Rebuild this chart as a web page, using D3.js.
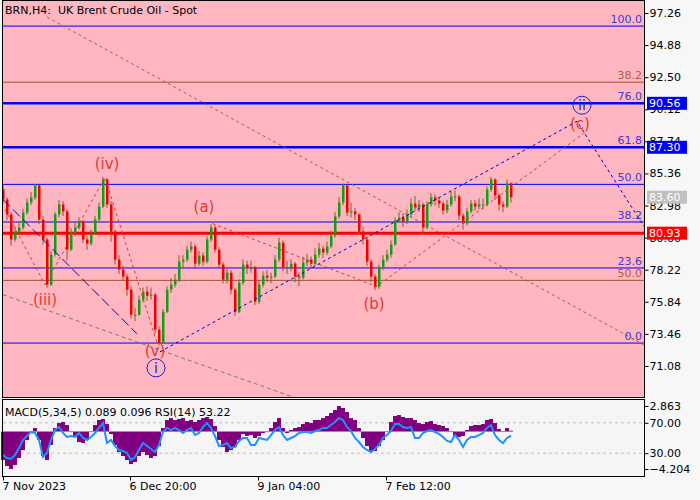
<!DOCTYPE html>
<html>
<head>
<meta charset="utf-8">
<title>BRN H4</title>
<style>
  body { margin: 0; background: #f7f7f7; }
  svg { display: block; font-family: "DejaVu Sans", Verdana, sans-serif; }
</style>
</head>
<body>
<svg id="chart" width="700" height="500"></svg>
<script src="https://cdn.jsdelivr.net/npm/d3@7"></script>
<script>
// every 4th H4 bar
var firstOpen = 84.2;
var closes = [
  83.43, 82.32, 80.46, 81.05, 81.35, 82.46, 83.21, 83.58, 84.47, 81.94,
  80.46, 77.11, 79.34, 82.32, 83.06, 82.54, 79.71, 80.98, 81.35, 81.80,
  80.46, 80.16, 80.90, 81.94, 82.91, 84.92, 83.06, 81.05, 78.97, 78.23,
  77.71, 76.74, 74.88, 74.88, 76.00, 76.59, 76.29, 76.37, 73.77, 72.80,
  75.10, 76.74, 77.11, 77.48, 78.82, 78.97, 79.71, 79.94, 78.67, 79.27,
  78.82, 80.46, 81.35, 79.71, 78.60, 77.48, 78.00, 76.74, 75.10, 77.26,
  78.60, 78.38, 78.38, 75.85, 77.11, 77.78, 77.63, 77.71, 78.97, 80.23,
  78.38, 78.38, 78.67, 77.71, 77.63, 78.75, 78.97, 78.67, 79.34, 79.79,
  79.49, 79.94, 80.75, 82.17, 83.21, 84.47, 82.46, 82.54, 82.32, 81.05,
  80.46, 78.82, 77.71, 76.96, 78.38, 78.97, 79.34, 80.09, 81.87, 82.09,
  81.80, 82.32, 83.13, 82.84, 83.06, 81.35, 83.06, 83.58, 83.36, 83.13,
  82.61, 83.06, 83.65, 83.65, 82.24, 81.65, 82.54, 83.13, 82.91, 83.06,
  83.06, 84.17, 84.92, 83.73, 83.06, 82.91, 84.62, 83.60
];
var highs = [
  84.5, 83.6, 82.5, 81.4, 81.8, 82.7, 83.5, 84.0, 84.6, 84.5,
  82.2, 80.6, 79.6, 82.5, 83.4, 83.3, 82.7, 81.3, 81.7, 82.1,
  81.9, 80.7, 81.2, 82.2, 83.2, 85.1, 85.0, 83.3, 81.2, 79.3,
  78.5, 77.9, 77.0, 75.4, 76.3, 76.9, 77.0, 76.9, 76.5, 74.0,
  75.3, 77.0, 77.6, 77.9, 79.3, 79.3, 80.0, 80.3, 80.1, 79.6,
  79.5, 80.7, 81.6, 81.5, 79.9, 78.8, 78.4, 78.2, 76.9, 77.5,
  79.0, 78.9, 78.9, 78.5, 77.4, 78.1, 78.2, 78.0, 79.3, 80.6,
  80.4, 78.9, 79.0, 78.8, 78.0, 79.2, 79.4, 79.2, 79.8, 80.2,
  80.0, 80.3, 81.1, 82.5, 83.6, 84.6, 84.5, 83.2, 82.8, 82.4,
  81.4, 80.6, 79.0, 77.9, 78.6, 79.3, 79.7, 80.4, 82.1, 82.5,
  82.4, 82.7, 83.5, 83.7, 83.4, 83.2, 83.3, 83.9, 83.8, 83.6,
  83.3, 83.4, 84.0, 84.1, 83.8, 82.4, 82.8, 83.4, 83.4, 83.5,
  83.5, 84.4, 85.1, 85.0, 83.9, 83.3, 84.9, 84.7
];
var lows = [
  83.1, 81.9, 80.0, 80.3, 80.8, 81.2, 82.3, 83.0, 83.4, 81.6,
  80.1, 76.9, 77.0, 79.2, 82.1, 82.2, 78.9, 79.6, 80.7, 81.2,
  80.2, 79.7, 80.0, 80.8, 81.8, 82.8, 82.8, 80.3, 78.6, 77.9,
  77.4, 76.3, 74.6, 74.4, 74.8, 75.8, 75.9, 76.0, 73.5, 72.6,
  72.8, 75.0, 76.5, 76.9, 77.3, 78.3, 78.8, 79.5, 78.3, 78.5,
  78.5, 78.7, 80.3, 79.5, 78.3, 77.2, 77.2, 76.4, 74.8, 75.0,
  77.1, 77.9, 78.0, 75.6, 75.7, 76.9, 77.3, 77.2, 77.6, 78.8,
  78.1, 77.9, 78.1, 77.3, 77.0, 77.5, 78.5, 78.3, 78.5, 79.1,
  79.1, 79.3, 79.8, 80.6, 82.0, 83.0, 82.2, 82.1, 81.9, 80.8,
  80.1, 78.5, 77.3, 76.7, 76.8, 78.2, 78.8, 79.1, 80.0, 81.7,
  81.4, 81.6, 82.1, 82.6, 82.5, 80.9, 81.2, 82.9, 83.0, 82.8,
  82.3, 82.4, 82.9, 83.3, 81.9, 81.2, 81.5, 82.4, 82.6, 82.7,
  82.7, 82.9, 84.0, 83.4, 82.6, 82.5, 82.8, 83.2
];
var macdHist = [
  -3.2, -3.87, -4.2, -3.76, -2.97, -2.08, -0.95, -0.06, 0.39, -0.95,
  -2.75, -3.2, -1.51, 0.39, 0.95, 1.07, 0.73, -0.06, -0.62, -1.18,
  -1.29, -0.95, -0.06, 0.73, 1.29, 1.40, 0.84, -0.28, -1.51, -2.30,
  -2.75, -3.2, -3.65, -3.42, -2.75, -2.30, -2.64, -2.97, -2.75, -1.63,
  0.39, 1.29, 1.51, 1.29, 1.40, 1.51, 1.18, 1.29, 1.07, 1.29,
  1.51, 1.63, 1.40, 0.62, -0.95, -1.74, -2.30, -2.08, -1.74, -0.95,
  -0.28, -0.50, -0.39, -0.73, -0.50, -0.17, -0.06, 0.39, 1.07, 1.51,
  0.39, -0.17, 0.17, 0.39, 0.50, 0.84, 1.07, 0.95, 1.29, 1.29,
  1.51, 1.74, 2.08, 2.41, 2.86, 2.64, 2.19, 1.51, 1.29, 0.39,
  -0.73, -1.63, -2.30, -2.19, -1.63, -0.95, -0.06, 1.07, 1.74, 1.85,
  1.63, 1.51, 1.51, 1.29, 0.95, 0.84, 1.07, 1.18, 0.84, 0.73,
  0.62, 0.39, -0.06, -0.50, -0.62, -0.50, 0.17, 0.62, 0.73, 0.73,
  0.84, 1.29, 1.40, 0.95, 0.28, -0.06, 0.39, 0.089
];
var rsiVals = [
  27.6, 23.7, 22.4, 27.6, 36.8, 47.4, 52.6, 57.9, 56.6, 47.4,
  25.0, 30.3, 47.4, 60.5, 64.5, 56.6, 51.3, 52.6, 51.3, 56.6,
  50.0, 47.4, 51.3, 56.6, 63.2, 69.7, 43.4, 47.4, 39.5, 34.2,
  32.9, 30.3, 21.1, 25.0, 34.2, 43.4, 39.5, 35.5, 31.6, 40.8,
  57.9, 63.2, 60.5, 63.2, 60.5, 56.6, 60.5, 63.2, 53.9, 56.6,
  64.5, 69.7, 63.2, 52.6, 39.5, 40.8, 43.4, 36.8, 38.2, 46.1,
  50.0, 50.0, 40.8, 40.8, 50.0, 48.7, 47.4, 53.9, 60.5, 64.5,
  53.9, 47.4, 50.0, 52.6, 56.6, 57.9, 57.9, 56.6, 59.2, 60.5,
  63.2, 63.2, 67.1, 71.1, 76.3, 73.7, 64.5, 59.2, 50.0, 44.7,
  38.2, 34.2, 31.6, 35.5, 40.8, 50.0, 53.9, 59.2, 68.4, 68.4,
  64.5, 63.2, 64.5, 50.0, 50.0, 56.6, 59.2, 60.5, 57.9, 55.3,
  51.3, 46.1, 44.7, 53.9, 47.4, 38.2, 47.4, 51.3, 51.3, 53.9,
  56.6, 63.2, 67.1, 53.9, 47.4, 43.4, 50.0, 53.22
];
var barsPerPoint = 4;

var priceTicks = [97.26, 94.88, 92.50, 90.12, 87.74, 85.36, 82.98, 80.60, 78.22, 75.84, 73.46, 71.08];
var timeTickBars = [0, 127, 255, 383];
var timeTickLabels = ["7 Nov 2023", "6 Dec 20:00", "9 Jan 04:00", "7 Feb 12:00"];

// fibonacci grids
var fibLabels = ["0.0", "23.6", "38.2", "50.0", "61.8", "76.0", "100.0"];
var fibPrices = [72.78, 78.35, 81.76, 84.55, 87.30, 90.56, 96.29];
var fibThick = ["61.8", "76.0"];
var fib2Labels = ["38.2", "50.0"];
var fib2Prices = [92.13, 77.43];
var supportPrice = 80.93;
var lastPrice = 83.60;

var tagPrices = [90.56, 87.30, 83.60, 80.93];
var tagColors = ["#0000ff", "#0000ff", "#c0c0c0", "#ff0000"];

// trend / wave lines as [bar, price]
var brownLine = [[44, 96.96], [641, 72.65]];
var grayLine = [[0, 76.37], [290, 68.78]];
var blueLine = [[0, 83.43], [134, 73.47]];
var impulseWave = [[2, 82.69], [42, 77.11], [102, 85.07], [154, 72.80]];
var waveAB = [[204, 81.80], [369, 77.11]];
var waveBC = [[372, 76.89], [582, 88.41]];
var waveII = [[157, 72.13], [574, 89.23], [641, 81.42]];

var waveNames = ["(iv)", "(iii)", "(v)", "(a)", "(b)", "(c)"];
var waveBars = [104, 42, 152, 201, 371, 577];
var wavePrices = [86.11, 76.00, 72.21, 82.91, 75.70, 89.01];
var circleNames = ["i", "ii"];
var circleBars = [153, 579];
var circlePrices = [70.94, 90.42];

var macdTicks = [2.863, -4.204];
var rsiTicks = [70, 30];

var L = 3, R = 644, T = 1, B = 397, MT = 400, MB = 476;
var svg = d3.select("#chart");

var x = d3.scaleLinear().domain([0, 641]).range([L, R]);
var y = d3.scaleLinear().domain([68.78, 98.15]).range([B, T]);
var macdY = d3.scaleLinear().domain([-4.204, 2.863]).range([469, 406]);
var rsiY = d3.scaleLinear().domain([0, 100]).range([MB, MT]);

svg.append("rect").attr("width", 700).attr("height", 500).attr("fill", "#f7f7f7");
svg.append("rect").attr("x", L).attr("y", T).attr("width", R - L).attr("height", B - T)
  .attr("fill", "#ffb6c1");
svg.append("rect").attr("x", L).attr("y", MT).attr("width", R - L).attr("height", MB - MT)
  .attr("fill", "#f5f5f5");

var main = svg.append("g");

function hline(price, color, width) {
  main.append("line").attr("x1", L).attr("x2", R)
    .attr("y1", y(price)).attr("y2", y(price))
    .attr("stroke", color).attr("stroke-width", width);
}

fib2Prices.forEach(function(p) { hline(p, "#a0522d", 1); });
hline(lastPrice, "#c8c8c8", 1);
fibPrices.forEach(function(p, i) {
  hline(p, "#0000ff", fibThick.indexOf(fibLabels[i]) >= 0 ? 2.5 : 1);
});
hline(supportPrice, "#ff0000", 3);

// candles
var candles = closes.map(function(c, i) {
  return { bar: i * barsPerPoint, open: i ? closes[i - 1] : firstOpen, close: c, high: highs[i], low: lows[i] };
});
var cg = main.selectAll(".candle").data(candles).enter().append("g");
cg.append("line")
  .attr("x1", function(d) { return x(d.bar); }).attr("x2", function(d) { return x(d.bar); })
  .attr("y1", function(d) { return y(d.high); }).attr("y2", function(d) { return y(d.low); })
  .attr("stroke", "#8b5a2b").attr("stroke-width", 1);
cg.append("rect")
  .attr("x", function(d) { return x(d.bar) - 1; })
  .attr("width", 2.5)
  .attr("y", function(d) { return y(Math.max(d.open, d.close)); })
  .attr("height", function(d) { return Math.max(1, Math.abs(y(d.open) - y(d.close))); })
  .attr("fill", function(d) { return d.close >= d.open ? "#169b16" : "#f00000"; });

var line = d3.line().x(function(d) { return x(d[0]); }).y(function(d) { return y(d[1]); });
function trend(pts, color, dash) {
  main.append("path").attr("d", line(pts)).attr("fill", "none")
    .attr("stroke", color).attr("stroke-width", 1).attr("stroke-dasharray", dash);
}
trend(brownLine, "#b05a4a", "3,3");
trend(grayLine, "#7a7a7a", "4,3");
trend(blueLine, "#0000cd", "10,4");
trend(impulseWave, "#d23c3c", "3,3");
trend(waveAB, "#d23c3c", "3,3");
trend(waveBC, "#d23c3c", "3,3");
trend(waveII, "#0000cd", "3,3");

// fib labels
fibPrices.forEach(function(p, i) {
  main.append("text").attr("x", R - 2).attr("y", y(p) - 3).attr("text-anchor", "end")
    .attr("font-size", 11).attr("fill", "#3a3ad8").text(fibLabels[i]);
});
fib2Prices.forEach(function(p, i) {
  main.append("text").attr("x", R - 2).attr("y", y(p) - 3).attr("text-anchor", "end")
    .attr("font-size", 11).attr("fill", "#b55a50").text(fib2Labels[i]);
});

// wave labels
waveNames.forEach(function(n, i) {
  main.append("text").attr("x", x(waveBars[i])).attr("y", y(wavePrices[i]))
    .attr("dy", "0.35em").attr("text-anchor", "middle").attr("font-size", 15)
    .attr("fill", "#e03a30").text(n);
});
circleNames.forEach(function(n, i) {
  main.append("circle").attr("cx", x(circleBars[i])).attr("cy", y(circlePrices[i]))
    .attr("r", 9).attr("fill", "none").attr("stroke", "#2020d0").attr("stroke-width", 1);
  main.append("text").attr("x", x(circleBars[i])).attr("y", y(circlePrices[i]))
    .attr("dy", "0.36em").attr("text-anchor", "middle").attr("font-size", 14)
    .attr("fill", "#2020d0").text(n);
});

svg.append("text").attr("x", 5).attr("y", 14).attr("font-size", 11)
  .style("white-space", "pre")
  .text("BRN,H4:  UK Brent Crude Oil - Spot");

// indicator window
var sub = svg.append("g");
rsiTicks.forEach(function(v) {
  sub.append("line").attr("x1", L).attr("x2", R).attr("y1", rsiY(v)).attr("y2", rsiY(v))
    .attr("stroke", "#c0c0c0").attr("stroke-dasharray", "3,3");
});
sub.selectAll(".hist").data(macdHist).enter().append("rect")
  .attr("x", function(d, i) { return x(i * barsPerPoint) - 2; })
  .attr("width", 4)
  .attr("y", function(d) { return Math.min(macdY(d), macdY(0)); })
  .attr("height", function(d) { return Math.abs(macdY(d) - macdY(0)); })
  .attr("fill", "#800080");
sub.append("path")
  .attr("d", d3.line().x(function(d, i) { return x(i * barsPerPoint); })
    .y(function(d) { return rsiY(d); })(rsiVals))
  .attr("fill", "none").attr("stroke", "#1e90ff").attr("stroke-width", 2);
sub.append("text").attr("x", 5).attr("y", 416).attr("font-size", 11)
  .text("MACD(5,34,5) 0.089 0.096 RSI(14) 53.22");

// frames
svg.append("rect").attr("x", L - 0.5).attr("y", T - 0.5).attr("width", R - L + 1).attr("height", B - T + 1)
  .attr("fill", "none").attr("stroke", "#000");
svg.append("rect").attr("x", L - 0.5).attr("y", MT - 0.5).attr("width", R - L + 1).attr("height", MB - MT + 1)
  .attr("fill", "none").attr("stroke", "#000");

// axes
function styleAxis(g) {
  g.select(".domain").remove();
  g.selectAll("text").attr("font-size", 11).attr("fill", "#000")
    .attr("font-family", "DejaVu Sans, Verdana, sans-serif");
}
svg.append("g").attr("transform", "translate(" + (R + 0.5) + ",0)")
  .call(d3.axisRight(y).tickValues(priceTicks).tickFormat(d3.format(".2f")).tickSize(4).tickPadding(1))
  .call(styleAxis);
svg.append("g").attr("transform", "translate(" + (R + 0.5) + ",0)")
  .call(d3.axisRight(macdY).tickValues(macdTicks).tickFormat(d3.format(".3f")).tickSize(4).tickPadding(1))
  .call(styleAxis);
svg.append("g").attr("transform", "translate(" + (R + 0.5) + ",0)")
  .call(d3.axisRight(rsiY).tickValues(rsiTicks).tickFormat(d3.format(".2f")).tickSize(4).tickPadding(1))
  .call(styleAxis);
svg.append("g").attr("transform", "translate(0," + (MB + 0.5) + ")")
  .call(d3.axisBottom(x).tickValues(timeTickBars)
    .tickFormat(function(d, i) { return timeTickLabels[i]; }).tickSize(4).tickPadding(2))
  .call(styleAxis)
  .selectAll("text").attr("text-anchor", "start").attr("dx", -1);

// price tags drawn over the axis labels they hide
tagPrices.forEach(function(p, i) {
  svg.append("rect").attr("x", R + 3).attr("y", y(p) - 6.5).attr("width", 40).attr("height", 13)
    .attr("fill", tagColors[i]);
  svg.append("text").attr("x", R + 5).attr("y", y(p)).attr("dy", "0.35em")
    .attr("font-size", 11).attr("fill", "#fff").text(d3.format(".2f")(p));
});
</script>
</body>
</html>
